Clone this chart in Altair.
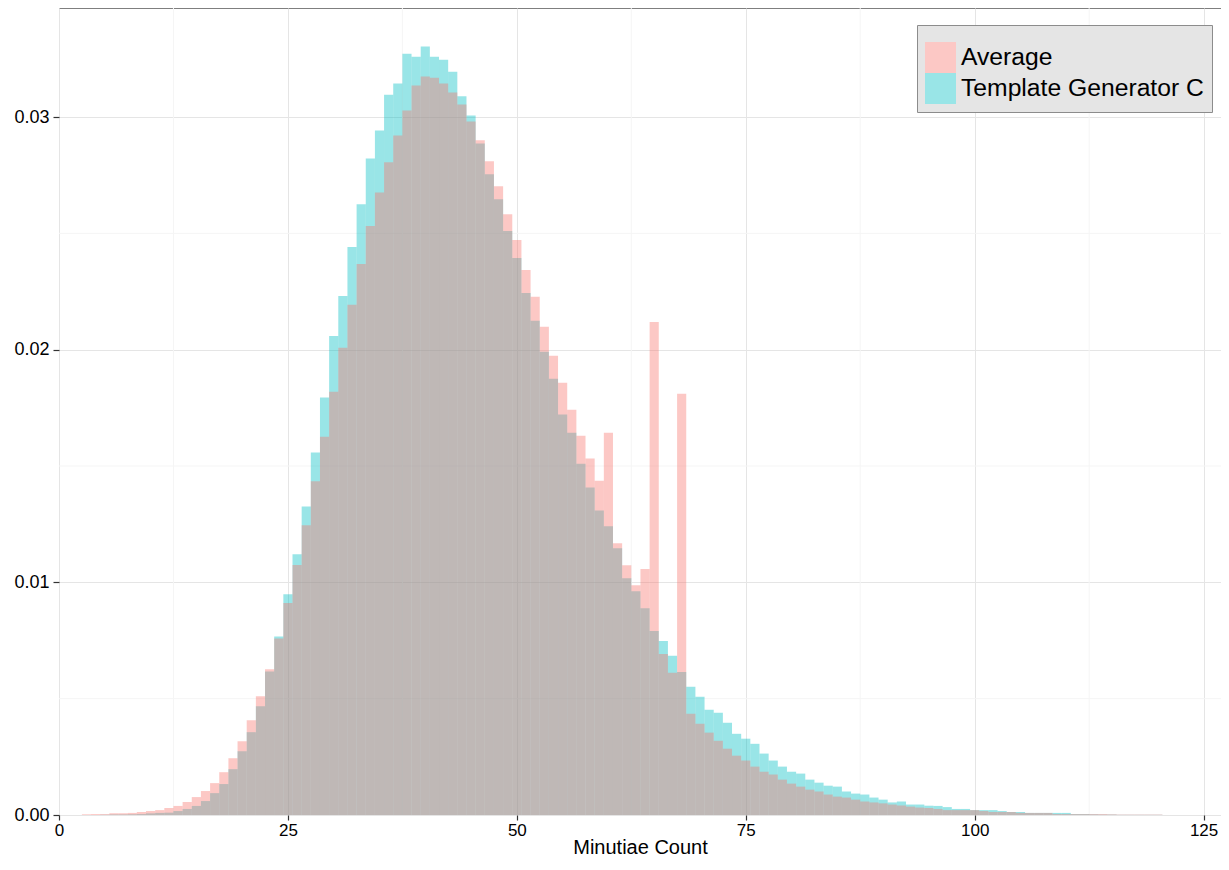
import altair as alt
import pandas as pd

# Minutiae count bins (integer-centred, width 1)
minutiae = list(range(3, 121))

average = [
    0.00003, 0.00004, 0.00004, 0.00007, 0.00008, 0.00009, 0.00013, 0.00017, 0.00021, 0.00030,   # 3-12
    0.00039, 0.00056, 0.00077, 0.00103, 0.00137, 0.00184, 0.00244, 0.00317, 0.00407, 0.00510,   # 13-22
    0.00626, 0.00759, 0.00911, 0.01074, 0.01245, 0.01434, 0.01626, 0.01819, 0.02008, 0.02193,   # 23-32
    0.02368, 0.02531, 0.02676, 0.02805, 0.02921, 0.03028, 0.03135, 0.03174, 0.03169, 0.03144,   # 33-42
    0.03105, 0.03054, 0.02981, 0.02900, 0.02810, 0.02702, 0.02582, 0.02471, 0.02342, 0.02227,   # 43-52
    0.02098, 0.01974, 0.01858, 0.01742, 0.01630, 0.01532, 0.01437, 0.01643, 0.01168, 0.01073,   # 53-62
    0.00988, 0.01057, 0.02119, 0.00692, 0.00611, 0.01811, 0.00435, 0.00392, 0.00354, 0.00319,   # 63-72
    0.00285, 0.00255, 0.00234, 0.00208, 0.00186, 0.00174, 0.00152, 0.00135, 0.00122, 0.00109,   # 73-82
    0.00101, 0.00088, 0.00079, 0.00075, 0.00066, 0.00058, 0.00054, 0.00050, 0.00045, 0.00041,   # 83-92
    0.00036, 0.00032, 0.00030, 0.00026, 0.00021, 0.00021, 0.00021, 0.00021, 0.00017, 0.00013,   # 93-102
    0.00013, 0.00013, 0.00009, 0.00009, 0.00009, 0.00009, 0.00004, 0.00004, 0.00004, 0.00004,   # 103-112
    0.00004, 0.00004, 0.00003, 0.00002, 0.00002, 0.00002, 0.00002, 0.00002,                     # 113-120
]

template_c = [
    0.00000, 0.00000, 0.00001, 0.00002, 0.00002, 0.00003, 0.00004, 0.00007, 0.00009, 0.00010,   # 3-12
    0.00017, 0.00026, 0.00039, 0.00060, 0.00094, 0.00133, 0.00197, 0.00274, 0.00356, 0.00467,   # 13-22
    0.00617, 0.00767, 0.00949, 0.01121, 0.01326, 0.01558, 0.01794, 0.02059, 0.02231, 0.02441,   # 23-32
    0.02625, 0.02822, 0.02942, 0.03096, 0.03144, 0.03272, 0.03259, 0.03303, 0.03259, 0.03246,   # 33-42
    0.03195, 0.03089, 0.03006, 0.02886, 0.02754, 0.02646, 0.02510, 0.02394, 0.02244, 0.02124,   # 43-52
    0.01991, 0.01875, 0.01721, 0.01643, 0.01510, 0.01408, 0.01309, 0.01241, 0.01146, 0.01018,   # 53-62
    0.00962, 0.00889, 0.00791, 0.00748, 0.00684, 0.00615, 0.00551, 0.00508, 0.00452, 0.00439,   # 63-72
    0.00396, 0.00349, 0.00328, 0.00306, 0.00264, 0.00234, 0.00208, 0.00186, 0.00178, 0.00152,   # 73-82
    0.00139, 0.00126, 0.00122, 0.00101, 0.00092, 0.00088, 0.00075, 0.00066, 0.00054, 0.00058,   # 83-92
    0.00045, 0.00045, 0.00040, 0.00039, 0.00034, 0.00026, 0.00026, 0.00021, 0.00021, 0.00021,   # 93-102
    0.00017, 0.00013, 0.00013, 0.00009, 0.00009, 0.00009, 0.00009, 0.00009, 0.00004, 0.00004,   # 103-112
    0.00003, 0.00002, 0.00002, 0.00001, 0.00001, 0.00001, 0.00001, 0.00001,                     # 113-120
]

series_names = ["Average", "Template Generator C"]
series_colors = ["#F8766D", "#00BFC4"]
legend_key_colors = ["#FCC8C5", "#99E5E7"]   # the same colours at 40% over white

x_ticks = [0, 25, 50, 75, 100, 125]
x_minor = [12.5, 37.5, 62.5, 87.5, 112.5]
y_ticks = [0.0, 0.01, 0.02, 0.03]
y_minor = [0.005, 0.015, 0.025]

x_domain = [0, 126.9]
y_domain = [0, 0.034685]

n = len(minutiae)
df = pd.DataFrame({
    "minutiae": minutiae * 2,
    "density": average + template_c,
    "series": [series_names[0]] * n + [series_names[1]] * n,
})

FONT = "Liberation Sans"

xscale = alt.Scale(domain=x_domain, nice=False, zero=False)
yscale = alt.Scale(domain=y_domain, nice=False, zero=False)

x_axis = alt.Axis(values=x_ticks, title="Minutiae Count", grid=True, format="d",
                  labelFlush=False, labelFontSize=17, labelPadding=2, tickSize=5,
                  titleBaseline="alphabetic", titleY=38)
y_axis = alt.Axis(values=y_ticks, title=None, grid=True, format=".2f",
                  labelFontSize=18, labelPadding=4, tickSize=6)

minor_x = alt.Chart(pd.DataFrame({"v": x_minor})).mark_rule(
    color="#F5F5F5", strokeWidth=1
).encode(x=alt.X("v:Q", scale=xscale, axis=x_axis))

minor_y = alt.Chart(pd.DataFrame({"v": y_minor})).mark_rule(
    color="#F5F5F5", strokeWidth=1
).encode(y=alt.Y("v:Q", scale=yscale, axis=y_axis))

base = alt.Chart(df).transform_calculate(
    x0="datum.minutiae - 0.5", x1="datum.minutiae + 0.5"
)


def bars(name, colour):
    return base.transform_filter(alt.datum.series == name).mark_rect(
        color=colour, opacity=0.4
    ).encode(
        x=alt.X("x0:Q", scale=xscale, axis=x_axis),
        x2="x1:Q",
        y=alt.Y("density:Q", scale=yscale, axis=y_axis),
        y2=alt.datum(0),
    )


legend = alt.Legend(
    title=" ",
    titleFontSize=9,
    titlePadding=0,
    orient="none",
    legendX=858,
    legendY=17,
    symbolType="square",
    symbolSize=961,
    symbolOpacity=1,
    symbolStrokeWidth=0,
    labelFontSize=24.7,
    labelFont=FONT,
    labelColor="#000000",
    labelOffset=5,
    labelLimit=0,
    rowPadding=0,
    padding=8,
    fillColor="#E5E5E5",
    strokeColor="#8C8C8C",
)

# zero-height rects: draw nothing, only carry the legend
legend_layer = base.mark_rect().encode(
    x=alt.X("x0:Q", scale=xscale, axis=x_axis),
    x2="x1:Q",
    y=alt.Y("zero:Q", scale=yscale, axis=y_axis),
    y2="zero:Q",
    color=alt.Color(
        "series:N",
        scale=alt.Scale(domain=series_names, range=legend_key_colors),
        legend=legend,
    ),
).transform_calculate(zero="0")

chart = alt.layer(
    minor_x,
    minor_y,
    bars(series_names[1], series_colors[1]),
    bars(series_names[0], series_colors[0]),
    legend_layer,
).properties(
    width=1162,
    height=807,
    padding={"left": 51, "top": 0, "right": 0, "bottom": 43},
    autosize="none",
    background="white",
).configure_view(
    stroke="#7F7F7F", strokeWidth=1
).configure_axis(
    labelFont=FONT,
    labelColor="#000000",
    titleFont=FONT,
    titleFontSize=20,
    titleFontWeight="normal",
    titleColor="#000000",
    tickColor="#333333",
    tickWidth=1.2,
    domain=False,
    gridColor="#E5E5E5",
    gridWidth=1,
)

chart.save("out.html", embed_options={"renderer": "svg", "actions": False})
